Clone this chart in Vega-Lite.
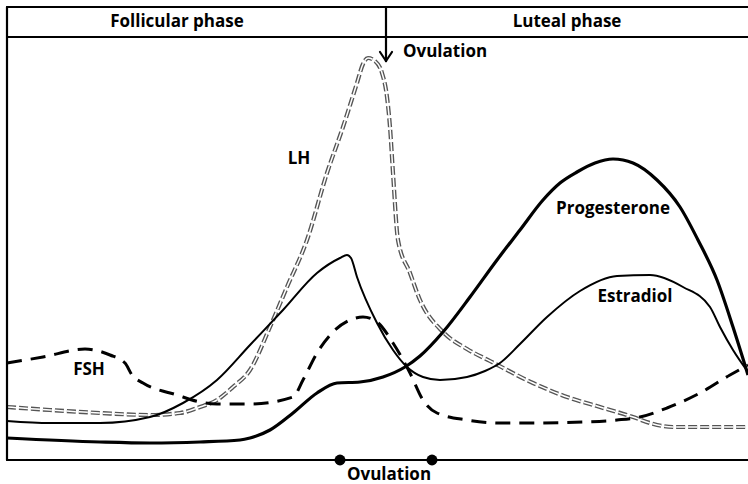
{
  "$schema": "https://vega.github.io/schema/vega-lite/v6.json",
  "width": 748,
  "height": 484,
  "autosize": "none",
  "padding": 0,
  "background": "white",
  "config": {"view": {"stroke": null}, "axis": {"disable": true}},
  "datasets": {
    "frame": [
      {"x": 7, "x2": 748, "y": 453, "y2": 453},
      {"x": 7, "x2": 748, "y": 423, "y2": 423},
      {"x": 7, "x2": 748, "y": 0, "y2": 0},
      {"x": 7, "x2": 7, "y": 0, "y2": 453},
      {"x": 386, "x2": 386, "y": 399, "y2": 453},
      {"x": 386, "x2": 380, "y": 399, "y2": 408},
      {"x": 386, "x2": 392, "y": 399, "y2": 408}
    ],
    "lh": [
      {"t": 7, "level": 53}, {"t": 50, "level": 50}, {"t": 100, "level": 47}, {"t": 150, "level": 45},
      {"t": 180, "level": 47}, {"t": 200, "level": 53}, {"t": 217, "level": 60}, {"t": 233, "level": 73},
      {"t": 250, "level": 90}, {"t": 270, "level": 133}, {"t": 287, "level": 173}, {"t": 307, "level": 220},
      {"t": 327, "level": 287}, {"t": 343, "level": 333}, {"t": 357, "level": 377}, {"t": 363, "level": 396},
      {"t": 368, "level": 402}, {"t": 375, "level": 399}, {"t": 382, "level": 387}, {"t": 387, "level": 363},
      {"t": 390, "level": 333}, {"t": 393, "level": 287}, {"t": 398, "level": 220}, {"t": 410, "level": 187},
      {"t": 420, "level": 160}, {"t": 443, "level": 128}, {"t": 467, "level": 111}, {"t": 490, "level": 99},
      {"t": 533, "level": 77}, {"t": 567, "level": 63}, {"t": 600, "level": 53}, {"t": 633, "level": 43},
      {"t": 650, "level": 37}, {"t": 673, "level": 33}, {"t": 748, "level": 33}
    ],
    "estradiol": [
      {"t": 7, "level": 39}, {"t": 50, "level": 37}, {"t": 100, "level": 37}, {"t": 150, "level": 43},
      {"t": 183, "level": 57}, {"t": 217, "level": 80}, {"t": 250, "level": 115}, {"t": 283, "level": 150},
      {"t": 317, "level": 187}, {"t": 340, "level": 202}, {"t": 347, "level": 205}, {"t": 351, "level": 202},
      {"t": 357, "level": 183}, {"t": 377, "level": 137}, {"t": 393, "level": 110}, {"t": 407, "level": 93},
      {"t": 423, "level": 83}, {"t": 440, "level": 80}, {"t": 467, "level": 83}, {"t": 485, "level": 89},
      {"t": 500, "level": 97}, {"t": 520, "level": 116}, {"t": 547, "level": 143}, {"t": 580, "level": 169},
      {"t": 617, "level": 184}, {"t": 650, "level": 185}, {"t": 683, "level": 173}, {"t": 710, "level": 153},
      {"t": 720, "level": 133}, {"t": 733, "level": 110}, {"t": 748, "level": 88}
    ],
    "progesterone": [
      {"t": 7, "level": 22}, {"t": 100, "level": 18}, {"t": 150, "level": 17}, {"t": 200, "level": 18},
      {"t": 240, "level": 20}, {"t": 250, "level": 22}, {"t": 270, "level": 30}, {"t": 293, "level": 47},
      {"t": 317, "level": 67}, {"t": 337, "level": 77}, {"t": 360, "level": 78}, {"t": 383, "level": 83},
      {"t": 405, "level": 93}, {"t": 420, "level": 104}, {"t": 443, "level": 128}, {"t": 470, "level": 163},
      {"t": 497, "level": 200}, {"t": 520, "level": 230}, {"t": 543, "level": 260}, {"t": 560, "level": 277},
      {"t": 577, "level": 288}, {"t": 595, "level": 297}, {"t": 613, "level": 301}, {"t": 633, "level": 297},
      {"t": 657, "level": 280}, {"t": 680, "level": 253}, {"t": 698, "level": 220}, {"t": 717, "level": 180},
      {"t": 733, "level": 133}, {"t": 748, "level": 85}
    ],
    "fsh": [
      {"t": 7, "level": 97}, {"t": 43, "level": 103}, {"t": 85, "level": 111}, {"t": 110, "level": 105},
      {"t": 125, "level": 97}, {"t": 132, "level": 85}, {"t": 143, "level": 77}, {"t": 177, "level": 65},
      {"t": 200, "level": 58}, {"t": 217, "level": 56}, {"t": 250, "level": 56}, {"t": 293, "level": 63},
      {"t": 303, "level": 80}, {"t": 317, "level": 107}, {"t": 333, "level": 128}, {"t": 350, "level": 140},
      {"t": 363, "level": 143}, {"t": 377, "level": 138}, {"t": 393, "level": 117}, {"t": 410, "level": 87},
      {"t": 423, "level": 60}, {"t": 437, "level": 47}, {"t": 467, "level": 40}, {"t": 500, "level": 37},
      {"t": 533, "level": 37}, {"t": 583, "level": 38}, {"t": 617, "level": 40}, {"t": 640, "level": 43},
      {"t": 667, "level": 52}, {"t": 700, "level": 67}, {"t": 730, "level": 85}, {"t": 748, "level": 95}
    ],
    "dots": [{"t": 340, "level": 0}, {"t": 432, "level": 0}],
    "labels": [
      {"t": 177, "level": 438, "text": "Follicular phase"},
      {"t": 567, "level": 438, "text": "Luteal phase"},
      {"t": 299, "level": 301, "text": "LH"},
      {"t": 89, "level": 90, "text": "FSH"},
      {"t": 613, "level": 251, "text": "Progesterone"},
      {"t": 635, "level": 163, "text": "Estradiol"},
      {"t": 389, "level": -15, "text": "Ovulation"}
    ],
    "toplabel": [{"t": 403, "level": 408, "text": "Ovulation"}]
  },
  "layer": [
    {
      "data": {"name": "lh"},
      "mark": {"type": "line", "interpolate": "monotone", "color": "#555555", "strokeWidth": 4.2, "strokeDash": [9, 3]},
      "encoding": {
        "x": {"field": "t", "type": "quantitative", "scale": {"domain": [0, 748], "nice": false, "zero": false}},
        "y": {"field": "level", "type": "quantitative", "scale": {"domain": [-24, 460], "nice": false, "zero": false}}
      }
    },
    {
      "data": {"name": "lh"},
      "mark": {"type": "line", "interpolate": "monotone", "color": "white", "strokeWidth": 1.5, "strokeDash": [9, 3]},
      "encoding": {
        "x": {"field": "t", "type": "quantitative"},
        "y": {"field": "level", "type": "quantitative"}
      }
    },
    {
      "data": {"name": "fsh"},
      "mark": {"type": "line", "interpolate": "monotone", "color": "black", "strokeWidth": 3, "strokeDash": [15, 9]},
      "encoding": {
        "x": {"field": "t", "type": "quantitative"},
        "y": {"field": "level", "type": "quantitative"}
      }
    },
    {
      "data": {"name": "estradiol"},
      "mark": {"type": "line", "interpolate": "monotone", "color": "black", "strokeWidth": 2},
      "encoding": {
        "x": {"field": "t", "type": "quantitative"},
        "y": {"field": "level", "type": "quantitative"}
      }
    },
    {
      "data": {"name": "progesterone"},
      "mark": {"type": "line", "interpolate": "monotone", "color": "black", "strokeWidth": 3.2},
      "encoding": {
        "x": {"field": "t", "type": "quantitative"},
        "y": {"field": "level", "type": "quantitative"}
      }
    },
    {
      "data": {"name": "frame"},
      "mark": {"type": "rule", "color": "black", "strokeWidth": 2.2, "strokeCap": "round"},
      "encoding": {
        "x": {"field": "x", "type": "quantitative"},
        "x2": {"field": "x2"},
        "y": {"field": "y", "type": "quantitative"},
        "y2": {"field": "y2"}
      }
    },
    {
      "data": {"name": "dots"},
      "mark": {"type": "point", "shape": "circle", "filled": true, "color": "black", "size": 120, "opacity": 1},
      "encoding": {
        "x": {"field": "t", "type": "quantitative"},
        "y": {"field": "level", "type": "quantitative"}
      }
    },
    {
      "data": {"name": "labels"},
      "mark": {"type": "text", "font": "Open Sans", "fontWeight": "bold", "fontSize": 17, "color": "black", "align": "center", "baseline": "middle"},
      "encoding": {
        "x": {"field": "t", "type": "quantitative"},
        "y": {"field": "level", "type": "quantitative"},
        "text": {"field": "text"}
      }
    },
    {
      "data": {"name": "toplabel"},
      "mark": {"type": "text", "font": "Open Sans", "fontWeight": "bold", "fontSize": 17, "color": "black", "align": "left", "baseline": "middle"},
      "encoding": {
        "x": {"field": "t", "type": "quantitative"},
        "y": {"field": "level", "type": "quantitative"},
        "text": {"field": "text"}
      }
    }
  ]
}
